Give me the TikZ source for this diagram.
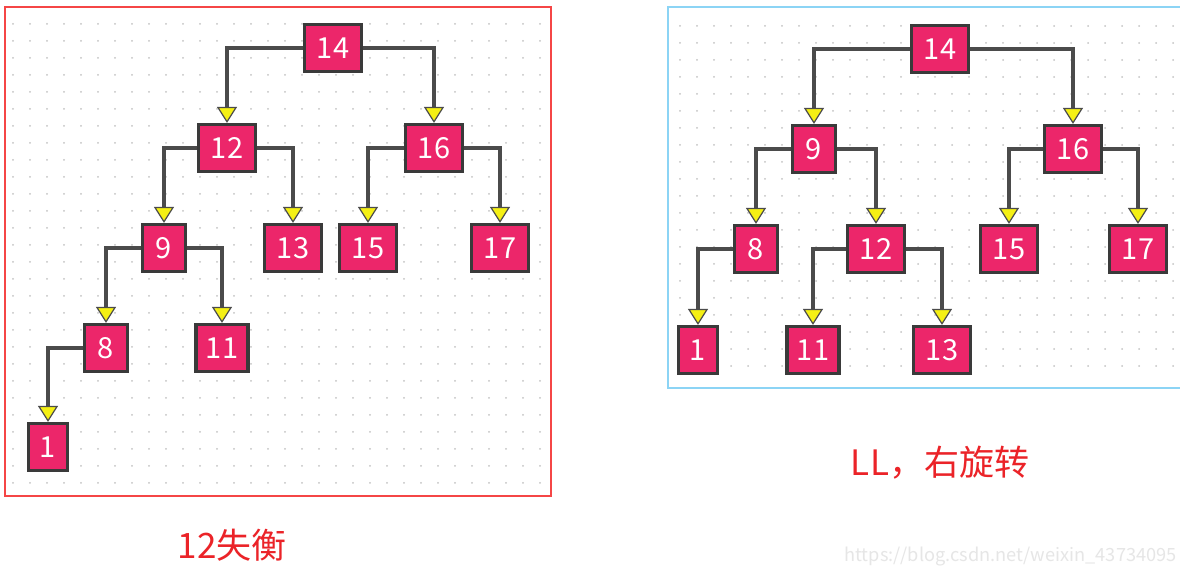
\documentclass[tikz,border=0pt]{standalone}
\usepackage{xcolor}
\usepackage{tikz}
\usepackage{fontspec}
\newfontfamily\cjk{Noto Sans CJK SC}
\usetikzlibrary{arrows.meta, positioning}
\definecolor{keypink}{RGB}{236, 38, 106}
\definecolor{boxline}{RGB}{58, 58, 58}
\definecolor{linkgray}{RGB}{75, 75, 75}
\definecolor{tipyellow}{RGB}{245, 240, 20}
\definecolor{framered}{RGB}{245, 70, 70}
\definecolor{frameblue}{RGB}{140, 212, 245}
\definecolor{dotgray}{RGB}{195, 195, 195}
\definecolor{capred}{RGB}{235, 35, 40}
\definecolor{markgray}{RGB}{230, 230, 230}

\begin{document}
\begin{tikzpicture}[
    x=0.5pt, y=-0.5pt,
    keybox/.style={rectangle, draw=boxline, line width=1.6pt, fill=keypink, text=white,
        font=\cjk\fontsize{14.5}{16}\selectfont, minimum height=23.5pt, minimum width=#1, inner sep=0pt},
    keybox/.default=28.5pt,
    link/.style={draw=linkgray, line width=2pt,
        -{Triangle[width=10pt, length=8pt, fill=tipyellow, line width=0.6pt]}},
    caption/.style={font=\cjk\fontsize{17.5}{20}\selectfont, text=capred}
]
    \clip (0,0) rectangle (1180,566);
    \fill[white] (0,0) rectangle (1180,566);

    % Frames and dot grid
    \foreach \x in {13,30,...,540}
        \foreach \y in {24,41,...,490}
            \fill[dotgray] (\x,\y) circle (1);
    \foreach \x in {680,697,...,1180}
        \foreach \y in {26,43,...,380}
            \fill[dotgray] (\x,\y) circle (1);
    \draw[framered, line width=1pt] (5,7) rectangle (551,496);
    \draw[frameblue, line width=1pt] (668,7) rectangle (1200,388);

    % Left tree: 12 unbalanced
    \node[keybox] (L14) at (333, 48) {14};
    \node[keybox] (L12) at (227, 148) {12};
    \node[keybox] (L16) at (434, 148) {16};
    \node[keybox=21.5pt] (L9) at (164, 248) {9};
    \node[keybox] (L13) at (293, 248) {13};
    \node[keybox] (L15) at (368, 248) {15};
    \node[keybox] (L17) at (500, 248) {17};
    \node[keybox=21.5pt] (L8) at (106, 348) {8};
    \node[keybox=26pt] (L11) at (222, 348) {11};
    \node[keybox=19.5pt] (L1) at (48, 447) {1};
    \draw[link] (L14.west) -| (L12.north);
    \draw[link] (L14.east) -| (L16.north);
    \draw[link] (L12.west) -| (L9.north);
    \draw[link] (L12.east) -| (L13.north);
    \draw[link] (L16.west) -| (L15.north);
    \draw[link] (L16.east) -| (L17.north);
    \draw[link] (L9.west) -| (L8.north);
    \draw[link] (L9.east) -| (L11.north);
    \draw[link] (L8.west) -| (L1.north);
    \node[caption] (leftcap) at (232, 545) {12失衡};

    % Right tree: after right rotation
    \node[keybox] (R14) at (940, 49) {14};
    \node[keybox=21.5pt] (R9) at (814, 149) {9};
    \node[keybox] (R16) at (1073, 149) {16};
    \node[keybox=21.5pt] (R8) at (756, 249) {8};
    \node[keybox] (R12) at (876, 249) {12};
    \node[keybox] (R15) at (1009, 249) {15};
    \node[keybox] (R17) at (1138, 249) {17};
    \node[keybox=19.5pt] (R1) at (698, 350) {1};
    \node[keybox=26pt] (R11) at (813, 350) {11};
    \node[keybox] (R13) at (942, 350) {13};
    \draw[link] (R14.west) -| (R9.north);
    \draw[link] (R14.east) -| (R16.north);
    \draw[link] (R9.west) -| (R8.north);
    \draw[link] (R9.east) -| (R12.north);
    \draw[link] (R16.west) -| (R15.north);
    \draw[link] (R16.east) -| (R17.north);
    \draw[link] (R8.west) -| (R1.north);
    \draw[link] (R12.west) -| (R11.north);
    \draw[link] (R12.east) -| (R13.north);
    \node[caption] (rightcap) at (940, 463) {LL，右旋转};

    \node[anchor=west, font=\cjk\fontsize{9.1}{11}\selectfont, text=markgray, inner sep=0pt] (mark) at (844, 557) {https://blog.csdn.net/weixin\_43734095};
\end{tikzpicture}
\end{document}
